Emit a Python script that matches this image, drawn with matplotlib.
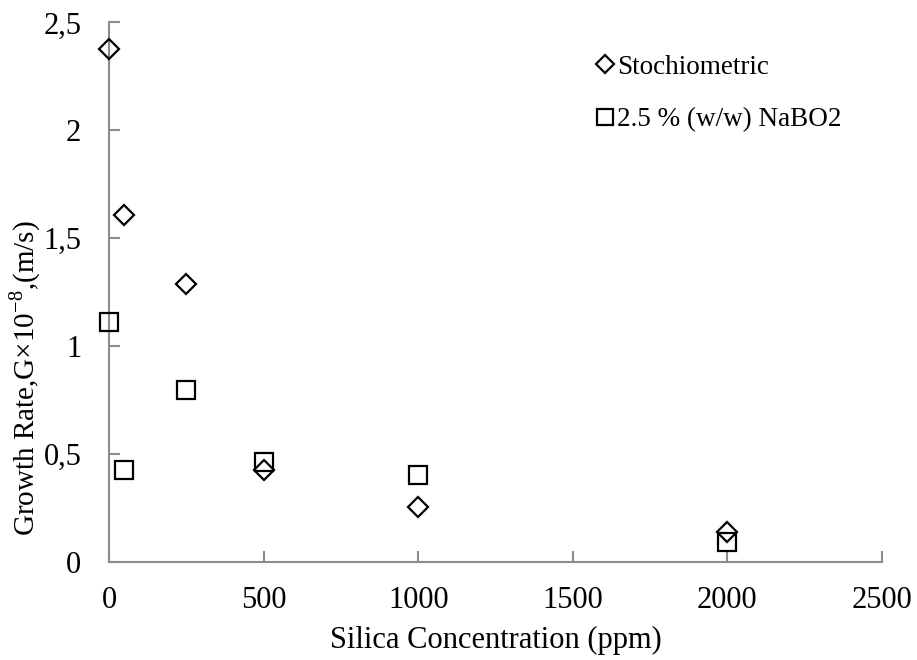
import matplotlib.pyplot as plt
from matplotlib.ticker import FuncFormatter

plt.rcParams['font.family'] = ['Liberation Serif', 'DejaVu Serif']
plt.rcParams['mathtext.fontset'] = 'custom'
plt.rcParams['mathtext.rm'] = 'Liberation Serif'

silica = [0, 50, 250, 500, 1000, 2000]
stoich = [2.375, 1.608, 1.289, 0.425, 0.254, 0.139]
nabo2 = [1.114, 0.425, 0.795, 0.462, 0.402, 0.092]

fig = plt.figure(figsize=(9.17, 6.6), dpi=100)
ax = fig.add_axes([0.1189, 0.1485, 0.8429, 0.8175])

ax.plot(silica, stoich, linestyle='none', marker='D', markersize=10,
        markerfacecolor='none', markeredgecolor='black', markeredgewidth=1.6,
        label='Stochiometric', clip_on=False, zorder=3)
ax.plot(silica, nabo2, linestyle='none', marker='s', markersize=13,
        markerfacecolor='none', markeredgecolor='black', markeredgewidth=1.6,
        label='2.5 % (w/w) NaBO2', clip_on=False, zorder=3)

ax.set_xlim(0, 2500)
ax.set_ylim(0, 2.5)
ax.set_xticks([0, 500, 1000, 1500, 2000, 2500])
ax.set_yticks([0, 0.5, 1, 1.5, 2, 2.5])
ax.yaxis.set_major_formatter(FuncFormatter(lambda v, p: f'{v:g}'.replace('.', ',')))

for s in ['top', 'right']:
    ax.spines[s].set_visible(False)
for s in ['left', 'bottom']:
    ax.spines[s].set_color('#8c8c8c')
    ax.spines[s].set_linewidth(1.5)
ax.tick_params(axis='both', direction='in', length=8, width=1.5, color='#8c8c8c',
               labelsize=22)
ax.tick_params(axis='y', pad=20)
ax.tick_params(axis='x', pad=17)

ax.set_xlabel('Silica Concentration (ppm)', fontsize=22, labelpad=8)
ax.set_ylabel('Growth Rate,G×10$^{\\mathrm{-8}}$,(m/s)', fontsize=21)
# label sits lower than the axis centre in the original
ax.yaxis.set_label_coords(-0.086, 0.341)

ax.legend(loc='upper left', bbox_to_anchor=(0.6, 0.985), frameon=False,
          fontsize=19.5, handlelength=0.6, handletextpad=0.15, labelspacing=1.0,
          markerscale=0.9)

plt.savefig('out.png', dpi=100)
